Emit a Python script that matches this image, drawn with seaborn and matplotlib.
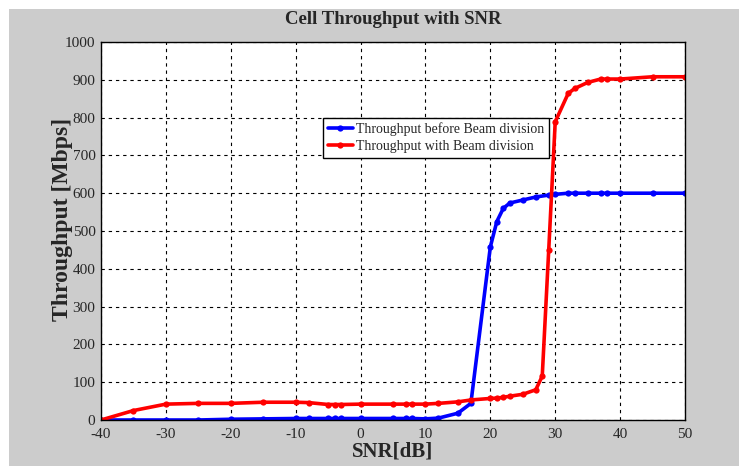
import matplotlib
matplotlib.use("Agg")
import matplotlib.pyplot as plt
import seaborn as sns
import pandas as pd
from matplotlib.patches import Rectangle

# SNR [dB] sample points and throughputs
snr_before = [-40, -35, -30, -25, -20, -15, -10, -8, -5, -4, -3, 0, 5, 7, 8, 10, 12, 15, 17,
              20, 21, 22, 23, 25, 27, 29, 30, 32, 33, 35, 37, 38, 40, 45, 50]
tput_before = [0, 0, 0, 0, 2, 3, 4, 4, 4, 4, 4, 4, 4, 4, 4, 3, 5, 18, 44,
               458, 525, 560, 574, 582, 590, 595, 597, 600, 600, 600, 600, 600, 600, 600, 600]

snr_with = [-40, -35, -30, -25, -20, -15, -10, -8, -5, -4, -3, 0, 5, 7, 8, 10, 12, 15, 17,
            20, 21, 22, 23, 25, 27, 28, 29, 30, 32, 33, 35, 37, 38, 40, 45, 50]
tput_with = [0, 25, 42, 44, 44, 47, 47, 46, 41, 41, 41, 42, 42, 42, 42, 42, 44, 48, 53,
             57, 58, 60, 63, 68, 80, 116, 450, 789, 864, 877, 893, 902, 902, 902, 908, 908]

x_ticks = list(range(-40, 51, 10))
y_ticks = list(range(0, 1001, 100))

sns.set_style("white")
plt.rcParams["font.family"] = ["Liberation Serif", "DejaVu Serif"]
plt.rcParams["axes.unicode_minus"] = False

fig = plt.figure(figsize=(7.39, 4.66), dpi=100, facecolor="white")
fig.patches.append(Rectangle((9 / 739, 0), 1, (466 - 9) / 466, transform=fig.transFigure,
                             facecolor="#cccccc", edgecolor="none", zorder=-10))
ax = fig.add_axes([101 / 739, 46 / 466, 584 / 739, 378 / 466])
ax.set_facecolor("white")

df_b = pd.DataFrame({"snr": snr_before, "tput": tput_before})
df_w = pd.DataFrame({"snr": snr_with, "tput": tput_with})
sns.lineplot(data=df_b, x="snr", y="tput", ax=ax, color="#0000ff", lw=2.6, marker="o",
             markersize=4.5, markeredgewidth=0, label="Throughput before Beam division")
sns.lineplot(data=df_w, x="snr", y="tput", ax=ax, color="#ff0000", lw=2.6, marker="o",
             markersize=4.5, markeredgewidth=0, label="Throughput with Beam division")

ax.set_xlim(-40, 50)
ax.set_ylim(0, 1000)
ax.set_xticks(x_ticks)
ax.set_yticks(y_ticks)
ax.tick_params(labelsize=11, length=3, direction="in")
ax.tick_params(axis="x", pad=6)
ax.tick_params(axis="y", pad=4)
ax.grid(True, color="black", linestyle=(0, (3, 3.5)), linewidth=0.8)
for s in ax.spines.values():
    s.set_color("black")
    s.set_linewidth(1.0)

ax.set_title("Cell Throughput with SNR", fontsize=13.5, fontweight="bold", pad=13)
ax.set_xlabel("SNR[dB]", fontsize=15, fontweight="bold", labelpad=0)
ax.set_ylabel("Throughput [Mbps]", fontsize=17, fontweight="bold")
ax.yaxis.set_label_coords(-0.048, 0.53)

leg = ax.legend(loc="upper left", bbox_to_anchor=(0.38, 0.80), fontsize=10, frameon=True,
                fancybox=False, framealpha=1, edgecolor="black", borderpad=0.35,
                handlelength=1.8, handletextpad=0.2, labelspacing=0.25, borderaxespad=0)
leg.get_frame().set_linewidth(1.0)

fig.savefig("out.png", dpi=100, facecolor=fig.get_facecolor())
